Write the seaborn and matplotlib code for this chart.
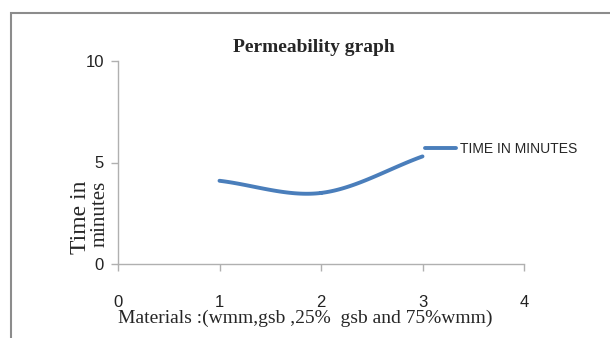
import numpy as np
import pandas as pd
import matplotlib
matplotlib.use("Agg")
import matplotlib.pyplot as plt
import seaborn as sns
from matplotlib.patches import Rectangle

# data
materials = [1, 2, 3]
time_minutes = [4.1, 3.5, 5.3]
series_name = "TIME IN MINUTES"
x_ticks = [0, 1, 2, 3, 4]
y_ticks = [0, 5, 10]

sns.set_theme(style="white")
plt.rcParams['font.family'] = ['Liberation Sans Narrow', 'Liberation Sans', 'DejaVu Sans']

def smooth(xs, ys, n=40):
    # Catmull-Rom style smoothing for display (Excel smoothed line)
    xs = np.asarray(xs, float); ys = np.asarray(ys, float)
    px = np.concatenate([[2*xs[0]-xs[1]], xs, [2*xs[-1]-xs[-2]]])
    py = np.concatenate([[2*ys[0]-ys[1]], ys, [2*ys[-1]-ys[-2]]])
    ox, oy = [], []
    for i in range(1, len(px)-2):
        t = np.linspace(0, 1, n)
        for arr, out in ((px, ox), (py, oy)):
            p0, p1, p2, p3 = arr[i-1], arr[i], arr[i+1], arr[i+2]
            out.extend(0.5*((2*p1) + (-p0+p2)*t + (2*p0-5*p1+4*p2-p3)*t**2 + (-p0+3*p1-3*p2+p3)*t**3))
    return np.array(ox), np.array(oy)

sx, sy = smooth(materials, time_minutes)
df = pd.DataFrame({"x": sx, "y": sy, "s": series_name})

fig = plt.figure(figsize=(6.1, 3.38), dpi=100)
ax = fig.add_axes([118/610, 1-264/338, (524-118)/610, (264-61)/338])

sns.lineplot(data=df, x="x", y="y", hue="s", palette=["#4a7ebb"], linewidth=2.8,
             sort=False, estimator=None, ax=ax, legend=True)

ax.set_xlim(0, 4)
ax.set_ylim(0, 10)
ax.set_xticks(x_ticks)
ax.set_yticks(y_ticks)
ax.set_xticklabels([str(v) for v in x_ticks], fontsize=12)
ax.set_yticklabels([str(v) for v in y_ticks], fontsize=12)
for s in ["top", "right"]:
    ax.spines[s].set_visible(False)
for s in ["left", "bottom"]:
    ax.spines[s].set_color("#b0b0b0")
    ax.spines[s].set_linewidth(1.0)
ax.tick_params(axis="y", length=5, width=1, color="#b0b0b0", pad=5, labelcolor="#222222", left=True)
ax.tick_params(axis="x", length=5, width=1, color="#b0b0b0", pad=17, labelcolor="#222222", bottom=True)
ax.set_xlabel("")
ax.set_ylabel("")

leg = ax.legend(loc="center left", bbox_to_anchor=((425-118)/406, (264-149)/203),
                frameon=False, fontsize=10, handlelength=2.2, handletextpad=0.35,
                borderpad=0, borderaxespad=0)

fig.text(314/610, 1-48/338, "Permeability graph", ha="center", va="center",
         fontsize=14, fontweight="bold", family=["Liberation Serif"])
fig.text(305/610, 1-318/338, "Materials :(wmm,gsb ,25%  gsb and 75%wmm)", ha="center",
         va="center", fontsize=14, family=["Liberation Serif"])
fig.text(80/610, 1-217/338, "Time in", ha="center", va="center",
         rotation=90, fontsize=17, family=["Liberation Serif"])
fig.text(100/610, 1-214/338, "minutes", ha="center", va="center",
         rotation=90, fontsize=15, family=["Liberation Serif"])

fig.patches.append(Rectangle((11/610, -0.1), 1.2, 1.1 - 13/338, transform=fig.transFigure,
                             fill=False, edgecolor="#8c8c8c", linewidth=1.5))

fig.savefig("out.png", dpi=100)
